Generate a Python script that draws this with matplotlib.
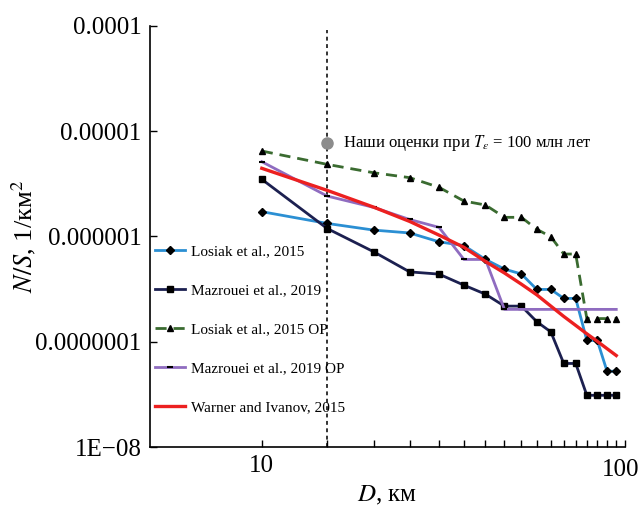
import numpy as np
import matplotlib.pyplot as plt
from matplotlib.ticker import FixedLocator, NullLocator, NullFormatter

plt.rcParams['font.family'] = ['Liberation Serif', 'DejaVu Serif']
plt.rcParams['mathtext.fontset'] = 'stix'

# Crater diameter, km
D = [10, 15, 20, 25, 30, 35, 40, 45, 50, 55, 60, 65, 70, 75, 80, 85, 90]

# Cumulative crater density N/S, 1/km^2
losiak = [1.72e-6, 1.33e-6, 1.15e-6, 1.08e-6, 8.9e-7, 8.2e-7, 6.05e-7, 4.9e-7, 4.4e-7,
          3.14e-7, 3.14e-7, 2.58e-7, 2.58e-7, 1.03e-7, 1.03e-7, 5.25e-8, 5.25e-8]
mazrouei = [3.49e-6, 1.19e-6, 7.16e-7, 4.61e-7, 4.39e-7, 3.45e-7, 2.83e-7, 2.18e-7, 2.18e-7,
            1.55e-7, 1.24e-7, 6.22e-8, 6.22e-8, 3.10e-8, 3.10e-8, 3.10e-8, 3.10e-8]
losiak_op = [6.48e-6, 4.84e-6, 4.03e-6, 3.62e-6, 2.93e-6, 2.17e-6, 1.99e-6, 1.52e-6, 1.52e-6,
             1.17e-6, 9.94e-7, 6.81e-7, 6.81e-7, 1.66e-7, 1.66e-7, 1.66e-7, 1.66e-7]
mazrouei_op = [5.13e-6, 2.42e-6, 1.89e-6, 1.45e-6, 1.22e-6, 6.05e-7, 6.05e-7, 2.03e-7, 2.03e-7,
               2.03e-7, 2.03e-7, 2.03e-7, 2.03e-7, 2.03e-7, 2.03e-7, 2.03e-7, 2.03e-7]
warner = [4.44e-6, 2.74e-6, 1.90e-6, 1.39e-6, 1.03e-6, 7.89e-7, 5.79e-7, 4.50e-7, 3.52e-7,
          2.79e-7, 2.18e-7, 1.74e-7, 1.43e-7, 1.19e-7, 1.01e-7, 8.6e-8, 7.4e-8]

# our estimate for T = 100 Myr
our_D = 15
our_val = 7.78e-6

y_ticks = [1e-8, 1e-7, 1e-6, 1e-5, 1e-4]
y_labels = ["1E\u221208", "0.0000001", "0.000001", "0.00001", "0.0001"]

fig = plt.figure(figsize=(6.41, 5.08), dpi=100)
ax = fig.add_axes([0.234, 0.120, 0.741, 0.829])

ax.plot(D, losiak, color="#2b8fd3", lw=2, marker="D", ms=4.2, mfc="black", mec="black",
        label="Losiak et al., 2015")
ax.plot(D, mazrouei, color="#1c2050", lw=2, marker="s", ms=4.8, mfc="black", mec="black",
        label="Mazrouei et al., 2019")
ax.plot(D, losiak_op, color="#3a6b30", lw=2, ls=(0, (4, 2.5)), marker="^", ms=4.8,
        mfc="black", mec="black", label="Losiak et al., 2015 OP")
ax.plot(D, mazrouei_op, color="#8f6cc0", lw=2, marker="_", ms=5, mfc="black", mec="black",
        mew=1.5, markevery=slice(0, 8), label="Mazrouei et al., 2019 OP")
ax.plot(D, warner, color="#ec2020", lw=2.4, label="Warner and Ivanov, 2015")

ax.axvline(our_D, ymin=0, ymax=0.99, color="#333333", ls=(0, (2, 1.8)), lw=1.4, zorder=1)
ax.plot([our_D], [our_val], "o", color="#8c8c8c", ms=8, zorder=5)
ax.text(16.5, our_val, r"Наши оценки при $T_\varepsilon$ = 100 млн лет", fontsize=12,
        va="center", ha="left")

ax.set_xscale("log")
ax.set_yscale("log")
ax.set_xlim(5, 95)
ax.set_ylim(1e-8, 1e-4)

ax.set_yticks(y_ticks)
ax.set_yticklabels(y_labels)
ax.yaxis.set_minor_locator(NullLocator())

ax.xaxis.set_major_locator(FixedLocator([10]))
ax.set_xticklabels(["10"])
ax.xaxis.set_minor_locator(FixedLocator(list(range(15, 100, 5))))
ax.xaxis.set_minor_formatter(NullFormatter())
ax.text(0.99, -0.028, "100", transform=ax.transAxes, ha="center", va="top", fontsize=18)

ax.tick_params(axis="both", which="both", direction="in", length=5, width=1,
               labelsize=18, pad=6)

for side in ["top", "right"]:
    ax.spines[side].set_visible(False)
for side in ["left", "bottom"]:
    ax.spines[side].set_linewidth(1.2)

ax.set_xlabel(r"$D$, км", fontsize=18, labelpad=5)
ax.set_ylabel(r"$N/S$, 1/км$^2$", fontsize=19)
ax.yaxis.set_label_coords(-0.235, 0.5)

ax.legend(loc="center left", bbox_to_anchor=(0.01, 0.279), frameon=False, fontsize=11,
          handlelength=2.0, handletextpad=0.35, labelspacing=1.65, borderpad=0,
          borderaxespad=0)

fig.savefig("out.png", dpi=100)
